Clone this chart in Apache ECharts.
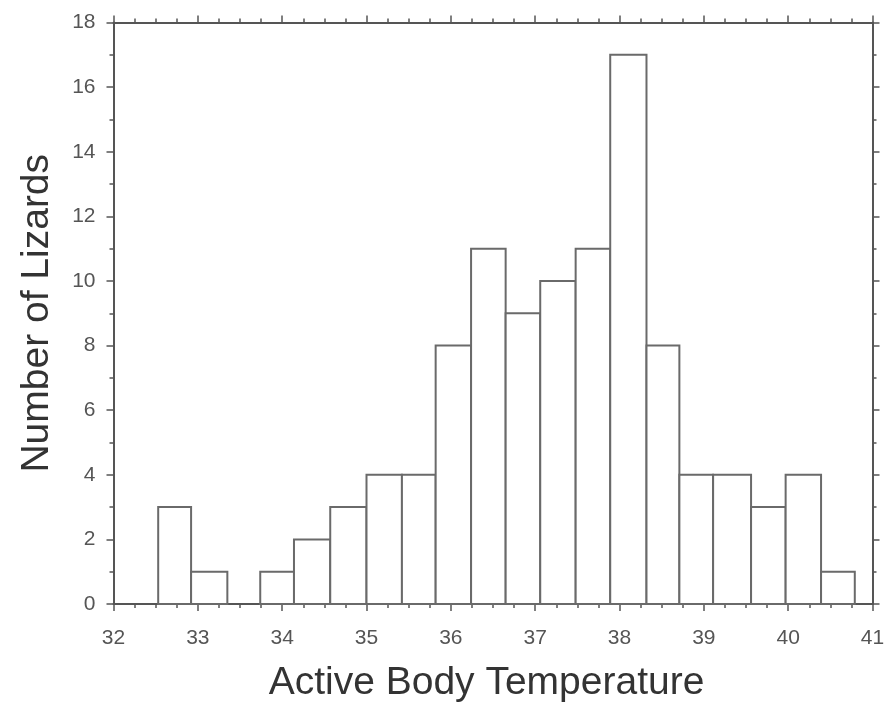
<!DOCTYPE html>
<html>
<head>
<meta charset="utf-8">
<script src="https://cdn.jsdelivr.net/npm/echarts@6/dist/echarts.min.js"></script>
<style>
  html, body { margin: 0; padding: 0; background: #fff; }
  #chart { width: 893px; height: 709px; }
</style>
</head>
<body>
<div id="chart"></div>
<script>
var binStarts = [32.53, 32.92, 33.35, 33.74, 34.14, 34.57, 35.0, 35.42, 35.82, 36.24,
                 36.65, 37.06, 37.48, 37.89, 38.32, 38.71, 39.11, 39.56, 39.97, 40.39];
var binEnds   = [32.92, 33.35, 33.74, 34.14, 34.57, 35.0, 35.42, 35.82, 36.24, 36.65,
                 37.06, 37.48, 37.89, 38.32, 38.71, 39.11, 39.56, 39.97, 40.39, 40.79];
var counts    = [3, 1, 0, 1, 2, 3, 4, 4, 8, 11, 9, 10, 11, 17, 8, 4, 4, 3, 4, 1];

var xTitle = 'Active Body Temperature';
var yTitle = 'Number of Lizards';

var bins = [];
for (var i = 0; i < counts.length; i++) {
    bins.push([binStarts[i], binEnds[i], counts[i]]);
}

var myChart = echarts.init(document.getElementById('chart'));

var axisLine = { show: true, onZero: false, lineStyle: { color: '#555', width: 2 } };
var tick = { show: true, length: 7, lineStyle: { color: '#555', width: 1.5 } };
var minor = function (n) {
    return { show: true, splitNumber: n, length: 4, lineStyle: { color: '#555', width: 1.5 } };
};
var labelStyle = { color: '#555', fontSize: 21, fontFamily: 'Liberation Sans' };

var option = {
    animation: false,
    grid: { left: 113.5, right: 20.5, top: 22.5, bottom: 105 },
    xAxis: [{
        type: 'value', min: 32, max: 41, interval: 1,
        axisLine: axisLine, axisTick: tick, minorTick: minor(4),
        splitLine: { show: false },
        axisLabel: Object.assign({ margin: 24 }, labelStyle),
        name: xTitle, nameLocation: 'middle', nameGap: 60,
        nameTextStyle: { fontSize: 39, color: '#333', fontFamily: 'Liberation Sans', padding: [0, 13, 0, 0] }
    }, {
        type: 'value', min: 32, max: 41, interval: 1, position: 'top',
        axisLine: axisLine, axisTick: tick, minorTick: minor(4),
        splitLine: { show: false }, axisLabel: { show: false }
    }],
    yAxis: [{
        type: 'value', min: 0, max: 18, interval: 2,
        axisLine: axisLine, axisTick: tick, minorTick: minor(2),
        splitLine: { show: false },
        axisLabel: Object.assign({ margin: 18 }, labelStyle),
        name: yTitle, nameLocation: 'middle', nameGap: 57,
        nameTextStyle: { fontSize: 39, color: '#333', fontFamily: 'Liberation Sans' }
    }, {
        type: 'value', min: 0, max: 18, interval: 2, position: 'right',
        axisLine: axisLine, axisTick: tick, minorTick: minor(2),
        splitLine: { show: false }, axisLabel: { show: false }
    }],
    series: [{
        type: 'custom',
        xAxisIndex: 0, yAxisIndex: 0,
        encode: { x: [0, 1], y: 2 },
        data: bins,
        renderItem: function (params, api) {
            var n = api.value(2);
            if (!n) return null;
            var p0 = api.coord([api.value(0), n]);
            var p1 = api.coord([api.value(1), 0]);
            return {
                type: 'rect',
                shape: { x: p0[0], y: p0[1], width: p1[0] - p0[0], height: p1[1] - p0[1] },
                style: { fill: '#fff', stroke: '#6a6a6a', lineWidth: 2 }
            };
        }
    }]
};

myChart.setOption(option);
</script>
</body>
</html>
